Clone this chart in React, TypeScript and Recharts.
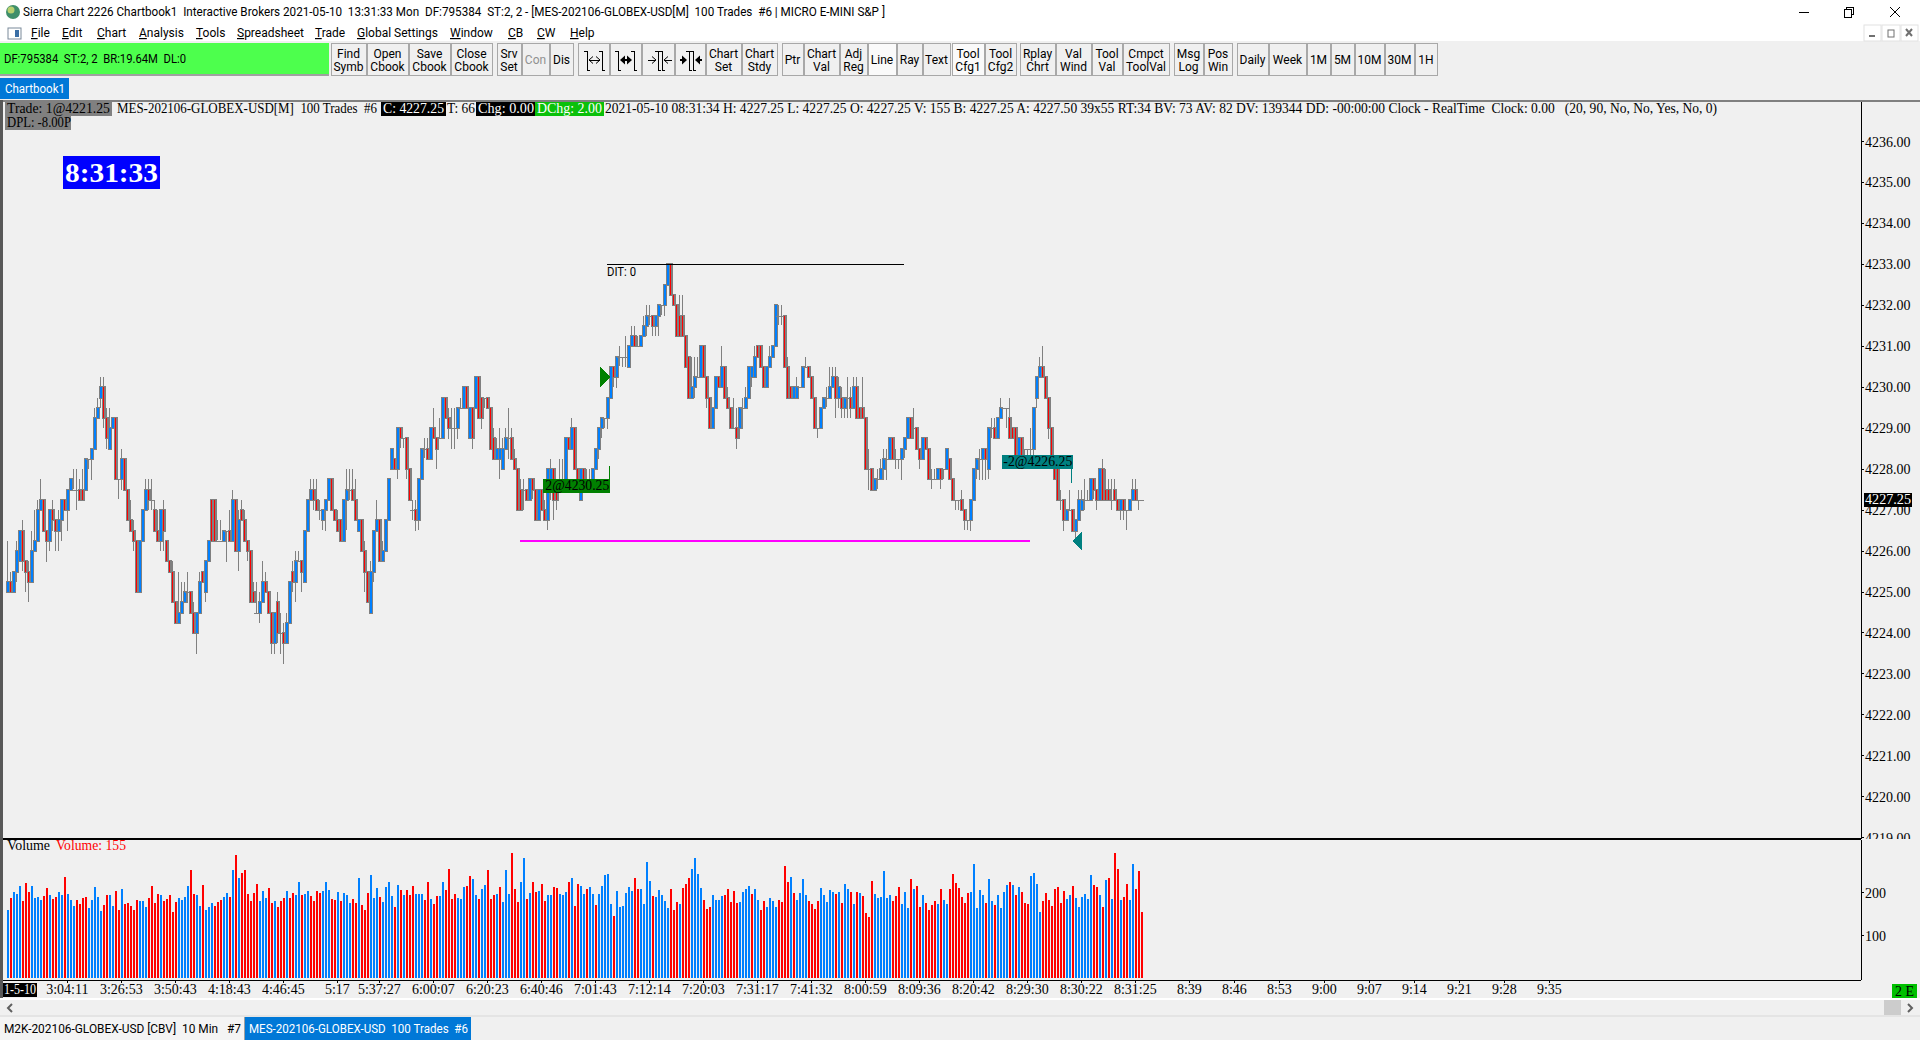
import React from 'react';
import { ComposedChart, Bar, XAxis, YAxis, ReferenceLine, ReferenceDot, Cell } from 'recharts';

const PRICE_BASE = 4220;

// prices are stored as offset from PRICE_BASE, one row per ten bars
const opens = [
  5,5.25,5,5.5,5.75,6.5,5.75,5.5,5.25,6,
  6.25,7,7.25,6.5,6.25,7,6.75,6.5,6.75,7.25,
  7,7.5,7.5,7.5,7.5,7.5,7.5,8.25,8.25,8.5,
  9.25,9.75,10,9.25,8.5,9,9.25,7.75,7.75,8.25,
  7.5,6.75,6.5,6.25,5,6.25,7,7.5,7.25,7,
  6.5,6.25,7,6.25,5.75,5.5,4.75,4.25,4.5,4.75,
  5,5,4.5,4,4.5,5.5,5,5.75,7.25,7.25,
  6.25,6.25,6.25,6.5,6.5,6.25,7.25,6,7,6.75,
  6.25,6,5,4.5,4.5,4.75,5.25,5,4.5,3.75,
  4.75,4,4,3.75,4.25,5.5,5.25,5.75,5.75,5.25,
  6.5,7.25,7.5,7.25,7,6.75,7,7.25,7.75,7,
  6.75,6.75,6.25,7.25,7.5,7.5,7.25,6.5,6.75,6,
  5.5,4.5,5.5,6.5,6.75,5.75,6,6.75,8,8.25,
  8,9,8.75,8.75,8,7,7,6.75,7.75,8.5,
  8.5,8.25,9,8.75,8.75,8.75,9.75,9.25,9,9,
  9,9.5,9.5,10,8.75,9.5,9.5,10.25,9.75,9.75,
  9.75,9.5,8.75,8.25,8.25,8,8.5,8.75,8.75,8.25,
  8,7.5,7.5,7.5,7.25,7.75,7.5,6.75,7.5,7,
  6.75,7.5,8,7.5,7.75,7.75,7.75,8.75,8.5,9,
  8,7.25,8,7.75,7.75,7.75,8,8.5,9,9.25,
  9.25,9.75,10.5,10.25,10.75,10.75,10.75,10.5,11,11.25,
  11,11,11.25,11.5,11.75,11.75,11.5,11.75,12,12,
  12.5,13,12.25,12,11.75,11.75,11.25,10.75,9.75,10,
  10.25,10.25,11,10.25,9.75,9,9.5,10.25,10,10.5,
  9.75,9.5,9,9,9,9.5,9.5,9.75,10.25,10.25,
  11,11,10.5,10,10.5,10.75,11,11.75,11.75,11.75,
  10.5,10,9.75,9.75,10,10,10.5,10.5,10.25,9.75,
  9,9,9.5,9.75,9.75,10,10.25,9.75,9.75,9.5,
  9.75,9.75,9.5,10,9.5,9.5,9.25,8,8,7.5,
  7.75,7.75,8,8.25,8.25,8.75,8.25,8.25,8.25,8.5,
  8.75,9.25,9,9,8.5,8.25,8.75,8.5,7.75,7.75,
  7.75,8,8,8,8.25,7.75,7.25,7.25,7.25,7,
  6.75,6.75,7.25,8,8.25,8.25,8.5,8,9,9,
  8.75,9.25,9.5,9.5,9.25,9,9,8.25,8.75,8.5,
  8.5,8.5,8.5,9.75,10.25,10.5,10.25,9.75,9,8.25,
  8,7.25,7.25,6.75,7,7,6.5,6.75,7,7.25,
  7.25,7.25,7.75,7.5,7.25,8,7.5,7.5,7.25,7.5,
  7.25,7,7.25,7,7,7.25,7.5,7.25,7.25,
];
const closes = [
  5.25,5,5.5,6,6.5,5.75,5.5,5.25,6,6.25,
  7,7.25,6.5,6.25,7,6.75,6.5,6.75,7.25,7,
  7.5,7.75,7.5,7.5,7.25,7.25,8.25,8.25,8.5,9.25,
  9.5,10,9.25,8.75,9,9.25,7.75,7.75,8.25,7.5,
  6.75,6.5,6.25,5,6.25,7,7.5,7.25,7.25,6.5,
  6.25,7,6.5,5.75,5.5,4.75,4.25,4.5,4.75,5,
  5,4.5,4,4.5,5.25,5.25,5.75,6.25,6.25,6.25,
  6.25,6.25,6.5,6.5,6.25,7.25,6,6.75,6.75,6.25,
  6,4.75,4.75,4.5,4.75,5.25,5,4.5,3.75,4.5,
  4,4,3.75,4.25,5.25,5.25,5.75,5.75,5.5,6.5,
  7.25,7.5,7.25,7,7,7,7.25,7.75,7,6.75,
  6.5,6.25,7.25,7.5,7.5,7.25,6.75,6.75,6,5.5,
  4.75,5.5,6.5,6.75,5.75,6,6.75,7.75,8.5,8,
  9,8.75,8.75,8,7.25,7,6.75,7.75,8.5,8.5,
  8.25,9,8.75,8.5,8.75,9.75,9.25,9,9,9,
  9.5,9.5,10,9.5,9.5,8.75,10.25,9.25,9.25,9.75,
  9.5,8.5,8.25,8.5,8.5,8.5,8.75,8.75,8.25,8,
  7,7,7.5,7.25,7.75,7.5,6.75,7.5,7,6.75,
  8,8,7.25,7.25,7.75,7.75,8.75,8.5,9,8,
  7.75,8,7.75,7.75,7.75,8,8.5,9,9.25,9.25,
  9.75,10.5,10.25,10.75,10.75,10.75,10.75,11,11.25,11,
  11,11.25,11.5,11.75,11.75,11.5,11.75,12,12,12.5,
  13,12.25,12,11.25,11.25,11.25,10.5,9.75,10,10.25,
  10.25,11,10.25,9.75,9,9.5,10.25,10,10.5,9.75,
  9.5,9,9,8.75,9.5,9.5,9.75,10.5,10.5,10.75,
  10.75,10.5,10,10.5,10.75,11,12,11.75,11.75,10.5,
  9.75,9.75,10,10,10,10.5,10.5,10.25,9.75,9,
  9,9.5,9.75,9.75,10,10.25,9.75,10,9.5,9.75,
  9.75,9.5,10,9.25,9.25,9.25,8,8,7.5,7.75,
  7.75,8,8.25,8.25,8.75,8.25,8.25,8.25,8.5,8.75,
  9.25,8.75,9,8.5,8.25,8.75,8.5,7.75,7.75,7.75,
  8,7.75,8,8.5,7.75,7.25,7.25,7.25,7,6.75,
  6.75,7.25,8,8.25,8.25,8.5,8.25,9,9,8.75,
  9.25,9.5,9.5,9.5,8.75,8.75,8.25,8.75,8.25,8.5,
  8.5,8.5,9.5,10.25,10.5,10.25,9.75,9,8.25,7.75,
  7.25,7.25,6.75,7,7,6.5,6.75,7.25,7.25,7.25,
  7.25,7.75,7.5,7.25,8,7.25,7.25,7.25,7.25,7.25,
  7,7.25,7,7,7.25,7.5,7.25,7.25,7.25,
];
const highs = [
  6.25,5.5,5.5,6.25,6.5,6.75,5.75,5.75,6.5,7,
  7.25,7.75,7.25,6.5,7,7.25,6.75,7,7.25,7.25,
  7.5,7.75,8,8,7.75,8,8.25,8.25,8.5,9.5,
  9.75,10.25,10.25,9.5,9.5,9.25,9.25,7.75,8.5,8.25,
  7.5,7.25,6.75,6.25,6.25,7,7.75,7.75,7.75,7.25,
  7,7,7.25,6.25,5.75,5.75,4.75,5.5,5.25,5.25,
  5.5,5,4.75,4.5,5.5,5.5,5.75,6.25,7.25,7.25,
  6.75,6.75,6.5,6.5,7,7.5,7.25,7,7.25,7,
  6.25,6,5.25,5.25,5,5.75,5.5,5,4.5,4.5,
  5,4.5,4.25,4.5,5.25,5.75,6,6,5.75,6.5,
  7.25,7.75,7.75,7.75,7.25,7,7.25,7.75,7.75,7,
  7,6.75,7.25,8,8,8,7.75,6.75,6.75,6.25,
  5.5,5.75,6.5,7.25,6.75,6.25,6.75,7.75,8.5,8.25,
  9,9,8.75,8.75,8,7.25,7.25,7.75,8.5,8.75,
  8.75,9,9.5,8.75,9.25,9.75,9.75,9.5,9.5,9.5,
  9.5,9.75,10,10,9.5,9.5,10.25,10.25,9.75,9.75,
  9.75,9.5,9,8.75,9,8.75,9,9.5,9,8.5,
  8,7.75,7.75,7.5,7.75,7.75,7.5,7.5,7.5,7.25,
  8,8.25,8,7.5,8.25,8.25,8.75,8.75,9.25,9,
  8,8,8,8,8,8,8.5,9,9.25,9.25,
  9.75,10.5,10.5,10.75,11,10.75,11.25,11,11.5,11.5,
  11.25,11.25,11.75,12,12,11.75,11.75,12,12,12.5,
  13,13,12.25,12,12.25,12.25,11.25,10.75,10.75,10.75,
  10.75,11,11,10.25,9.75,9.5,10.25,10.25,11,10.5,
  10,9.5,9.75,9.5,9.5,9.75,10,10.5,10.5,11,
  11,11,10.5,10.5,11,11,12,12,12,11.75,
  10.75,10,10,10.25,10,10.5,10.75,10.5,10.25,9.75,
  9,9.5,9.75,10,10.5,10.5,10.5,10.25,10,9.75,
  10.25,10,10.25,10.25,9.5,10.25,9.25,8.5,8,7.75,
  8,8.25,8.5,8.5,8.75,8.75,8.5,8.25,8.5,8.75,
  9.25,9.25,9.5,9,8.5,8.75,8.75,8.5,8,8,
  8,8,8,8.5,8.25,7.75,7.25,7.25,7.5,7,
  6.75,7.25,8,8.25,8.5,8.5,8.5,9,9.25,9.25,
  9.25,9.75,9.5,9.5,9.75,9,9,8.75,8.75,8.5,
  8.5,9,9.5,10.25,10.75,11,10.25,9.75,9,8.25,
  8,7.5,7.25,7,7.5,7,6.75,7.5,7.5,7.75,
  7.5,7.75,7.75,7.5,8,8.25,8,7.75,7.75,7.75,
  7.25,7.25,7.25,7,7.25,7.75,7.75,7.25,7.25,
];
const lows = [
  5,5,5,5.25,5.75,5.5,5,4.75,5.25,6,
  6.25,7,6.5,5.75,6,6.5,6,6,6.25,7,
  6.5,7.5,7.5,7,7.25,7.25,7.5,8,7.75,8.5,
  9.25,9.5,9,8.5,8.5,9,7.75,7.25,7.5,7.5,
  6.75,6.5,6,5,5,6.25,7,7,7,6.5,
  6.25,6,6,5.75,5.5,4.75,4.25,4.25,4.5,4.75,
  4.75,4.5,4,3.5,4.5,5.25,4.75,5.75,6.25,6.25,
  6.25,6.25,6.25,5.75,6.25,6.25,6,5.5,6.75,6.25,
  5.75,4.75,4.75,4.5,4.25,4.75,5,4.5,3.5,3.5,
  3.75,3.5,3.25,3.75,4.25,5,4.75,5.75,5,5.25,
  6.5,7.25,7,7,6.75,6.5,6.5,7.25,7,6.75,
  6.5,6.25,6.25,6.5,7.25,7.25,6.75,6.5,6,5,
  4.75,4.5,5.25,6.5,5.75,5.75,6,6.75,8,8,
  7.75,8.5,8.5,7.75,7.25,6.75,6.5,6.5,7.75,8.25,
  8.25,8.25,8.75,8,8.75,8.75,9.25,8.75,8.5,8.5,
  8.75,9.5,9.5,9.5,8.75,8.5,9.5,9.25,9,9.5,
  9.5,8.5,8.25,8.25,7.75,8,8.5,8.25,8.25,8,
  7,7,7,7.25,7.25,7.25,6.75,6.75,7,6.75,
  6.5,7.25,6.75,7,7.5,7.5,7.75,8.5,8.5,8,
  7.75,7.25,7.75,7.75,7.75,7.75,8,8.25,8.75,9,
  9,9.75,10,10,10.5,10.5,10.5,10.5,11,11,
  11,11,11.25,11.25,11.5,11.25,11.25,11.25,11.75,11.75,
  12.5,12.25,12,11.25,11.25,11.25,10.5,9.75,9.75,9.75,
  10.25,10.25,10.25,9.5,9,9,9.5,10,10,9.75,
  9.5,9,9,8.5,8.75,9,9.5,9.75,10,10.25,
  10.75,10.5,10,10,10.5,10.75,11,11.5,11.5,10.5,
  9.75,9.75,9.75,9.75,10,10,10.5,10.25,9.75,9,
  8.75,9,9.5,9.5,9.75,10,9.25,9.5,9.25,9.25,
  9.25,9.25,9.5,9.25,9.25,9.25,8,7.5,7.5,7.5,
  7.5,7.75,7.75,7.75,8.25,8.25,8,8,7.75,8.25,
  8.75,8.75,8.75,8.5,8,8.25,8.5,7.75,7.5,7.75,
  7.75,7.5,7.75,8,7.75,7.25,7,7,7,6.5,
  6.5,6.5,7.25,7.75,7.75,7.75,7.75,7.75,8.75,8.75,
  8.75,9.25,9.5,9,8.75,8.75,8.25,8.25,8.25,8.25,
  8.25,8.25,8.25,9.5,10.25,10.25,9.75,8.75,8.25,7.75,
  7.25,7,6.5,6.75,7,6.5,6.25,6.75,7,7,
  7.25,7.25,7.25,7,7.25,7.25,7.25,7.25,7,7.25,
  7,6.75,6.75,6.5,7,7.25,7.25,7,7.25,
];
const volumes = [
  159,187,201,197,215,180,222,201,215,187,
  190,183,192,210,194,185,190,201,194,236,
  197,183,169,183,173,187,190,164,183,213,
  190,157,171,194,194,169,204,159,208,173,
  176,169,159,183,180,180,166,187,215,176,
  197,194,180,185,194,155,178,187,183,190,
  215,252,197,194,169,218,159,166,176,169,
  178,183,190,199,190,252,287,234,245,252,
  197,180,199,220,180,204,187,210,176,180,
  166,180,187,204,187,199,194,224,194,197,
  204,192,180,204,199,204,224,206,185,183,
  201,180,199,194,176,185,176,234,171,159,
  199,241,187,210,190,178,213,224,192,166,
  218,206,194,206,194,215,197,197,197,183,
  224,185,173,192,192,224,206,255,185,197,
  187,185,213,215,238,231,194,185,208,218,
  252,185,194,197,213,178,252,197,292,208,
  178,224,280,185,199,224,201,204,220,180,
  194,194,213,210,197,194,201,224,234,169,
  220,215,197,208,213,197,171,197,215,241,
  243,173,145,204,166,169,199,213,204,234,
  208,208,173,271,227,192,190,206,194,180,
  164,208,159,178,173,210,220,234,255,280,
  243,210,183,162,166,194,183,183,192,194,
  208,178,204,176,178,201,208,215,197,208,
  183,159,180,166,187,180,166,183,178,262,
  224,236,199,183,199,231,194,180,173,162,
  180,210,194,178,206,201,197,201,176,220,
  208,201,173,201,199,192,152,143,227,197,
  187,190,250,187,194,180,192,213,173,201,
  164,231,208,215,166,194,176,159,171,180,
  173,208,183,173,208,243,222,210,190,176,
  199,201,266,164,206,194,176,231,180,171,
  194,164,201,218,224,218,194,213,201,176,
  173,238,245,220,155,180,199,183,169,208,
  213,176,204,185,194,215,187,166,190,197,
  185,241,218,213,194,166,229,234,185,292,
  255,183,190,220,183,266,208,250,155,
];
// b = up volume, r = down volume
const volumeSides = (
  'brbbbrrrbb' + 'bbrrbrrbbr' + 'bbbrrrrbbb' + 'bbrrbbrrbr' + 'rrrrbbbrrr' + 'rbrrrrrbbb' + 'brrbbrbbbr' + 'rrbbrbrbrr' +
  'rrrrbbbrrb' + 'rrrbrrbbrb' + 'brrrrbbbrr' + 'brbbbrrbrr' + 'rbbbrbbbbr' + 'brbrrrbbbr' + 'rbrrbbrrrr' + 'bbbrrbbrbb' +
  'rrrbrbbbrr' + 'rbbrbrrbrr' + 'bbrrbbbrbr' + 'rbbrbbrbbb' + 'bbrbbbbbbr' + 'rbbbbrbbbb' + 'brrrbrrrbb' + 'bbrrrbbbbr' +
  'rrrrbbbbrb' + 'brrbbbbrrr' + 'rbrbbbbrrr' + 'rbbbbbrbrb' + 'brbrbrrrrb' + 'bbbbbrrrbb' + 'brbrrbrrrr' + 'brbbrrrrrr' +
  'rbbbbbrbbr' + 'bbbbrbrbrr' + 'rbbbbrrrrr' + 'rrrbbrbbbb' + 'bbrrbrbrbr' + 'rbrrbbrrr'
).split('');

const priceTicks = [4219,4220,4221,4222,4223,4224,4225,4226,4227,4228,4229,4230,4231,4232,4233,4234,4235,4236];
const volumeTicks = [100, 200];
const timeTickBars = [20,38,56,74,92,110,124,142,160,178,196,214,232,250,268,286,304,322,340,358,376,394,409,424,439,454,469,484,499,514];
const timeTickLabels = ['3:04:11','3:26:53','3:50:43','4:18:43','4:46:45','5:17','5:37:27','6:00:07','6:20:23','6:40:46','7:01:43','7:12:14','7:20:03','7:31:17','7:41:32','8:00:59','8:09:36','8:20:42','8:29:30','8:30:22','8:31:25','8:39','8:46','8:53','9:00','9:07','9:14','9:21','9:28','9:35'];

const UP = '#0080ff';
const DOWN = '#ff0000';
const WICK = '#808080';
const BG = '#f0f0f0';
const CHART_FONT = '"Liberation Serif", serif';
const UI_FONT = 'Roboto, sans-serif';

const X_DOMAIN: [number, number] = [-1.443, 617.89];

const bars = opens.map((o, i) => ({
  bar: i,
  open: PRICE_BASE + o,
  close: PRICE_BASE + closes[i],
  high: PRICE_BASE + highs[i],
  low: PRICE_BASE + lows[i],
  range: [PRICE_BASE + lows[i], PRICE_BASE + highs[i]],
  volume: volumes[i],
  side: volumeSides[i],
}));

function Candle(props: any) {
  const { x, y, width, height, payload } = props;
  const cx = Math.round(x + width / 2);
  const top = Math.min(y, y + height);
  const span = Math.abs(height);
  const full = payload.high - payload.low;
  const toY = (p: number) => (full > 0 ? top + ((payload.high - p) / full) * span : top);
  const bodyTop = Math.round(toY(Math.max(payload.open, payload.close)));
  const bodyBottom = Math.round(toY(Math.min(payload.open, payload.close)));
  const flat = payload.open === payload.close;
  const up = payload.close > payload.open;
  return (
    <g shapeRendering="crispEdges">
      <rect x={cx} y={Math.round(top)} width={1} height={Math.max(1, Math.round(span))} fill={WICK} />
      {flat ? (
        <rect x={cx - 2} y={bodyTop} width={5} height={1} fill={WICK} />
      ) : (
        <>
          <rect x={cx - 1} y={bodyTop - 1} width={4} height={bodyBottom - bodyTop + 2} fill={WICK} />
          <rect x={cx} y={bodyTop} width={up ? 2 : 1} height={bodyBottom - bodyTop} fill={up ? UP : DOWN} />
        </>
      )}
    </g>
  );
}

const EntryArrow = ({ cx, cy }: any) => (
  <polygon points={`${cx},${cy} ${cx - 10},${cy - 10} ${cx - 10},${cy + 10}`} fill="#008000" />
);
const ExitArrow = ({ cx, cy }: any) => (
  <polygon points={`${cx},${cy} ${cx + 10},${cy - 10} ${cx + 10},${cy + 10}`} fill="#008080" />
);
const EntryTag = ({ cx, cy }: any) => (
  <g>
    <rect x={cx - 1.5} y={cy - 13} width={1} height={14} fill="#008000" />
    <rect x={cx - 67} y={cy} width={67} height={14} fill="#008000" />
    <text x={cx - 65} y={cy + 11} fontFamily={CHART_FONT} fontSize={14} textLength={64} lengthAdjust="spacingAndGlyphs" fill="#000">2@4230.25</text>
  </g>
);
const ExitTag = ({ cx, cy }: any) => (
  <g>
    <rect x={cx - 1.5} y={cy} width={1} height={14} fill="#008080" />
    <rect x={cx - 70} y={cy - 14} width={71} height={14} fill="#008080" />
    <text x={cx - 69} y={cy - 3} fontFamily={CHART_FONT} fontSize={14} textLength={69} lengthAdjust="spacingAndGlyphs" fill="#000">-2@4226.25</text>
  </g>
);

function PricePane() {
  return (
    <div style={{ position: 'absolute', left: 0, top: 0, width: 1920, height: 839, overflow: 'hidden', shapeRendering: 'crispEdges' }}>
      <ComposedChart width={1920} height={839} data={bars} margin={{ top: 101, left: 3, right: 0, bottom: 0 }}>
        <XAxis dataKey="bar" type="number" domain={X_DOMAIN} hide />
        <YAxis
          orientation="right"
          width={59}
          domain={[4218.97, 4236.99]}
          ticks={priceTicks}
          interval={0}
          tickFormatter={(v: number) => v.toFixed(2)}
          tickSize={3}
          tickMargin={1}
          tick={{ fontFamily: CHART_FONT, fontSize: 14, fill: '#000' }}
          tickLine={{ stroke: '#000' }}
          axisLine={{ stroke: '#000' }}
        />
        <Bar dataKey="range" barSize={3} isAnimationActive={false} shape={<Candle />} />
        <ReferenceLine segment={[{ x: 171, y: 4226.25 }, { x: 341, y: 4226.25 }]} stroke="#ff00ff" strokeWidth={2} />
        <ReferenceLine segment={[{ x: 200, y: 4233 }, { x: 299, y: 4233 }]} stroke="#000" strokeWidth={1} />
        <ReferenceDot x={201} y={4230.25} r={1} shape={<EntryArrow />} />
        <ReferenceDot x={201} y={4227.75} r={1} shape={<EntryTag />} />
        <ReferenceDot x={355} y={4226.25} r={1} shape={<ExitArrow />} />
        <ReferenceDot x={355} y={4228} r={1} shape={<ExitTag />} />
      </ComposedChart>
    </div>
  );
}

function VolumePane() {
  return (
    <div style={{ position: 'absolute', left: 0, top: 839, width: 1920, height: 170, overflow: 'hidden', shapeRendering: 'crispEdges' }}>
      <ComposedChart width={1920} height={170} data={bars} margin={{ top: 1, left: 3, right: 0, bottom: 10 }}>
        <XAxis
          dataKey="bar"
          type="number"
          domain={X_DOMAIN}
          ticks={timeTickBars}
          interval={0}
          height={19}
          tickSize={3}
          tickMargin={1}
          tickFormatter={(v: number) => timeTickLabels[timeTickBars.indexOf(v)]}
          tick={{ fontFamily: CHART_FONT, fontSize: 14, fill: '#000' }}
          tickLine={{ stroke: '#000' }}
          axisLine={{ stroke: '#000', strokeWidth: 1 }}
        />
        <YAxis
          orientation="right"
          width={59}
          domain={[-3.5, 322.9]}
          ticks={volumeTicks}
          interval={0}
          tickSize={3}
          tickMargin={1}
          tick={{ fontFamily: CHART_FONT, fontSize: 14, fill: '#000' }}
          tickLine={{ stroke: '#000' }}
          axisLine={{ stroke: '#000' }}
        />
        <Bar dataKey="volume" barSize={2} isAnimationActive={false}>
          {bars.map((b) => (
            <Cell key={b.bar} fill={b.side === 'b' ? UP : DOWN} />
          ))}
        </Bar>
      </ComposedChart>
    </div>
  );
}

const menuItems: Array<[number, string, string]> = [
  [31, 'F', 'ile'], [62, 'E', 'dit'], [97, 'C', 'hart'], [139, 'A', 'nalysis'], [196, 'T', 'ools'],
  [237, 'S', 'preadsheet'], [315, 'T', 'rade'], [357, 'G', 'lobal Settings'], [450, 'W', 'indow'],
  [508, 'C', 'B'], [537, 'C', 'W'], [570, 'H', 'elp'],
];

const toolbar: Array<[number, number, string, string?]> = [
  [331, 366, 'Find', 'Symb'], [367, 408, 'Open', 'Cbook'], [409, 450, 'Save', 'Cbook'], [451, 492, 'Close', 'Cbook'],
  [497, 521, 'Srv', 'Set'], [522, 549, 'Con'], [550, 573, 'Dis'],
  [578, 609, ''], [610, 641, ''], [642, 674, ''], [675, 705, ''],
  [706, 741, 'Chart', 'Set'], [742, 777, 'Chart', 'Stdy'], [782, 803, 'Ptr'], [804, 839, 'Chart', 'Val'], [840, 867, 'Adj', 'Reg'],
  [868, 896, 'Line'], [897, 922, 'Ray'], [923, 950, 'Text'], [952, 984, 'Tool', 'Cfg1'], [985, 1016, 'Tool', 'Cfg2'],
  [1020, 1055, 'Rplay', 'Chrt'], [1056, 1091, 'Val', 'Wind'], [1092, 1122, 'Tool', 'Val'], [1123, 1169, 'Cmpct', 'ToolVal'],
  [1174, 1203, 'Msg', 'Log'], [1204, 1232, 'Pos', 'Win'], [1237, 1268, 'Daily'], [1269, 1306, 'Week'],
  [1307, 1330, '1M'], [1331, 1354, '5M'], [1355, 1384, '10M'], [1385, 1414, '30M'], [1415, 1437, '1H'],
];

const infoLine: Array<[number, number, string, string, string?]> = [
  [7, 103, 'Trade: 1@4221.25', '#000', '#808080'],
  [117, 260, 'MES-202106-GLOBEX-USD[M]  100 Trades  #6', '#000'],
  [383, 61, 'C: 4227.25', '#fff', '#000'],
  [447, 28, 'T: 66', '#000'],
  [478, 56, 'Chg: 0.00', '#fff', '#000'],
  [537, 65, 'DChg: 2.00', '#fff', '#0ac00a'],
  [605, 1112, '2021-05-10 08:31:34 H: 4227.25 L: 4227.25 O: 4227.25 V: 155 B: 4227.25 A: 4227.50 39x55 RT:34 BV: 73 AV: 82 DV: 139344 DD: -00:00:00 Clock - RealTime  Clock: 0.00   (20, 90, No, No, Yes, No, 0)', '#000'],
];

const Ui = ({ x, y, w, fill = '#000', size = 12, anchor, children }: any) => (
  <text x={x} y={y} fontFamily={UI_FONT} fontSize={size} fill={fill} textAnchor={anchor} textLength={w} lengthAdjust={w ? 'spacingAndGlyphs' : undefined} style={{ whiteSpace: 'pre' }}>
    {children}
  </text>
);
const Serif = ({ x, y, w, fill = '#000', children }: any) => (
  <text x={x} y={y} fontFamily={CHART_FONT} fontSize={14} fill={fill} textLength={w} lengthAdjust={w ? 'spacingAndGlyphs' : undefined} style={{ whiteSpace: 'pre' }}>
    {children}
  </text>
);

// the two bars of a zoom button, with the small serifs at their ends
function ZoomBars({ left, right }: { left: number; right: number }) {
  return (
    <path
      d={`M${left} 51 V70 M${left} 51 H${left - 3} M${left} 70 H${left + 3} M${right} 51 V70 M${right} 51 H${right - 3} M${right} 70 H${right + 3}`}
      stroke="#000"
      fill="none"
      shapeRendering="crispEdges"
    />
  );
}

const Arrow = ({ tip, dir, solid }: { tip: number; dir: number; solid: boolean }) =>
  solid ? (
    <polygon points={`${tip},60 ${tip - dir * 5},55.5 ${tip - dir * 5},64.5`} fill="#000" />
  ) : (
    <path d={`M${tip - dir * 4} 56.5 L${tip} 60 L${tip - dir * 4} 63.5`} stroke="#000" fill="none" />
  );

function ZoomIcons() {
  return (
    <g>
      <ZoomBars left={587} right={602} />
      <path d="M589 60 H600" stroke="#000" shapeRendering="crispEdges" />
      <Arrow tip={589} dir={-1} solid={false} />
      <Arrow tip={600} dir={1} solid={false} />

      <ZoomBars left={618} right={634} />
      <path d="M621 60 H631" stroke="#000" strokeWidth={2} shapeRendering="crispEdges" />
      <Arrow tip={620} dir={-1} solid />
      <Arrow tip={632} dir={1} solid />

      <ZoomBars left={658} right={662} />
      <path d="M648 60 H655 M665 60 H672" stroke="#000" shapeRendering="crispEdges" />
      <Arrow tip={656} dir={1} solid={false} />
      <Arrow tip={664} dir={-1} solid={false} />

      <ZoomBars left={689} right={693} />
      <path d="M680 60 H686 M696 60 H702" stroke="#000" strokeWidth={2} shapeRendering="crispEdges" />
      <Arrow tip={687} dir={1} solid />
      <Arrow tip={695} dir={-1} solid />
    </g>
  );
}

function Chrome() {
  return (
    <svg width={1920} height={1040} style={{ position: 'absolute', left: 0, top: 0, pointerEvents: 'none' }}>
      {/* title and menu */}
      <rect x={0} y={0} width={1920} height={41} fill="#fff" />
      <circle cx={13} cy={12} r={7} fill="#3f8f6a" />
      <circle cx={11} cy={10} r={3.5} fill="#b8d070" />
      <Ui x={23} y={16} w={862}>Sierra Chart 2226 Chartbook1  Interactive Brokers 2021-05-10  13:31:33 Mon  DF:795384  ST:2, 2 - [MES-202106-GLOBEX-USD[M]  100 Trades  #6 | MICRO E-MINI S&amp;P ]</Ui>
      <rect x={8} y={28} width={13} height={11} fill="#fff" stroke="#7a8a9a" />
      <rect x={15} y={30} width={4} height={7} fill="#3a6ea5" />
      {menuItems.map(([x, first, rest]) => (
        <text key={x} x={x} y={37} fontFamily={UI_FONT} fontSize={12} fill="#000">
          <tspan textDecoration="underline">{first}</tspan>
          {rest}
        </text>
      ))}
      <g stroke="#000" fill="none" shapeRendering="crispEdges">
        <path d="M1799 12 H1809" />
        <rect x={1844} y={9} width={7} height={8} />
        <path d="M1846 9 V7 H1853 V14 H1851" />
      </g>
      <path d="M1890 7 L1900 17 M1900 7 L1890 17" stroke="#000" fill="none" />
      <g fill="#fff" stroke="#e2e2e2">
        <rect x={1864} y={25} width={17} height={16} />
        <rect x={1882} y={25} width={18} height={16} />
        <rect x={1901} y={25} width={17} height={16} />
      </g>
      <rect x={1869} y={35} width={6} height={2} fill="#707070" />
      <rect x={1888} y={30} width={6} height={7} fill="none" stroke="#707070" />
      <path d="M1906 29 L1912 36 M1912 29 L1906 36" stroke="#707070" strokeWidth={2} />

      {/* toolbar */}
      <rect x={0} y={43} width={329} height={31} fill="#4dff4d" />
      <rect x={0} y={74} width={329} height={2} fill="#a0a0a0" />
      <Ui x={4} y={63} w={182}>DF:795384  ST:2, 2  BR:19.64M  DL:0</Ui>
      {toolbar.map(([x1, x2, a, b]) => {
        const active = a === 'Line' || b === 'Cfg1';
        const cx = (x1 + x2) / 2;
        return (
          <g key={x1}>
            <rect x={x1} y={43.5} width={x2 - x1} height={32} fill={active ? '#fafafa' : BG} stroke="#a8a8a8" shapeRendering="crispEdges" />
            {b ? (
              <>
                <Ui x={cx} y={58} anchor="middle">{a}</Ui>
                <Ui x={cx} y={71} anchor="middle">{b}</Ui>
              </>
            ) : (
              <Ui x={cx} y={64} anchor="middle" fill={a === 'Con' ? '#909090' : '#000'}>{a}</Ui>
            )}
          </g>
        );
      })}
      <ZoomIcons />

      {/* tab and pane borders */}
      <rect x={0} y={78} width={69} height={21} fill="#0078d7" />
      <Ui x={5} y={93} w={60} fill="#fff">Chartbook1</Ui>
      <rect x={0} y={100} width={1920} height={2} fill="#808080" />
      <rect x={0} y={100} width={3} height={900} fill="#585858" />
      <rect x={3} y={838} width={1858} height={2} fill="#000" />

      {/* info line */}
      {infoLine.map(([x, w, label, color, bg]) => (
        <g key={x}>
          {bg ? <rect x={x - 2} y={102} width={w + 4} height={14} fill={bg} /> : null}
          <Serif x={x} y={113} w={w} fill={color}>{label}</Serif>
        </g>
      ))}
      <rect x={5} y={116} width={66} height={14} fill="#808080" />
      <Serif x={7} y={127} w={64}>DPL: -8.00P</Serif>
      <rect x={63} y={156} width={97} height={33} fill="#0000ff" />
      <text x={65} y={182} fontFamily={CHART_FONT} fontWeight="bold" fontSize={28} fill="#fff" textLength={93} lengthAdjust="spacingAndGlyphs">8:31:33</text>
      <Ui x={607} y={276} w={29}>DIT: 0</Ui>

      {/* last price and volume header */}
      <rect x={1864} y={493} width={48} height={14} fill="#000" />
      <Serif x={1865} y={504} w={46} fill="#fff">4227.25</Serif>
      <Serif x={7} y={850} w={43}>Volume</Serif>
      <Serif x={56} y={850} w={70} fill="#ff0000">Volume: 155</Serif>

      {/* date stub, scroll and sheet tabs */}
      <rect x={3} y={983} width={34} height={14} fill="#000" />
      <Serif x={4} y={994} w={32} fill="#fff">1-5-10</Serif>
      <rect x={1892} y={984} width={25} height={16} fill="#00c000" />
      <Serif x={1895} y={996} w={19}>2 E</Serif>
      <rect x={0} y={998} width={1920} height={2} fill="#fff" />
      <rect x={0} y={1015} width={1920} height={2} fill="#e4e4e4" />
      <rect x={1884} y={1000} width={17} height={15} fill="#cccccc" />
      <path d="M12 1004 L8 1008 L12 1012" stroke="#606060" strokeWidth={2} fill="none" />
      <path d="M1908 1004 L1912 1008 L1908 1012" stroke="#606060" strokeWidth={2} fill="none" />
      <rect x={0} y={1017} width={245} height={23} fill="#f4f4f4" />
      <rect x={244} y={1017} width={1} height={23} fill="#a0a0a0" />
      <Ui x={4} y={1033} w={237}>M2K-202106-GLOBEX-USD [CBV]  10 Min   #7</Ui>
      <rect x={245} y={1017} width={226} height={23} fill="#0078d7" />
      <Ui x={249} y={1033} w={219} fill="#fff">MES-202106-GLOBEX-USD  100 Trades  #6</Ui>
    </svg>
  );
}

export default function App() {
  return (
    <div style={{ position: 'absolute', left: 0, top: 0, width: 1920, height: 1040, overflow: 'hidden', background: BG }}>
      <PricePane />
      <VolumePane />
      <Chrome />
    </div>
  );
}
